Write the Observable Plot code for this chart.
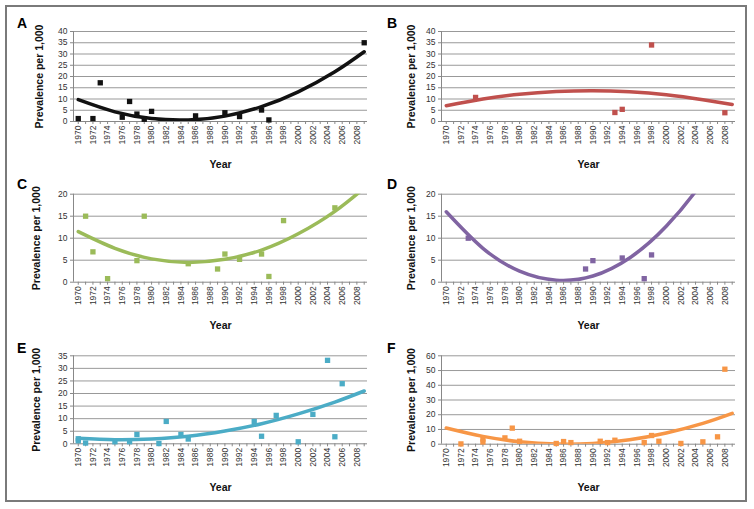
<!DOCTYPE html>
<html>
<head>
<meta charset="utf-8">
<script src="https://cdn.jsdelivr.net/npm/d3@7"></script>
<script src="https://cdn.jsdelivr.net/npm/@observablehq/plot@0.6"></script>
<style>
  html, body { margin: 0; padding: 0; background: #fff; }
  #fig { position: relative; width: 754px; height: 509px; overflow: hidden; font-family: "Liberation Sans", Arial, sans-serif; }
  #border { position: absolute; left: 5px; top: 5px; width: 742px; height: 497px; border: 2px solid #7a7a7a; box-sizing: border-box; }
  .panel { position: absolute; }
  .letter { position: absolute; font-weight: bold; font-size: 14px; line-height: 14px; color: #000; }
</style>
</head>
<body>
<div id="fig"><div id="border"></div></div>
<script>
// ---- data ----
const tickYears = [1970,1972,1974,1976,1978,1980,1982,1984,1986,1988,1990,1992,1994,1996,1998,2000,2002,2004,2006,2008];
const trendYears = [1970,1975,1980,1985,1990,1995,2000,2005,2009];

const yearsA  = [1970,1972,1973,1976,1977,1978,1979,1980,1986,1990,1992,1995,1996,2009];
const valuesA = [1.3,1.3,17.2,1.9,8.9,3.3,1.0,4.5,2.5,3.9,2.2,5.1,0.7,35];
const trendA  = [9.7,4.3,1.3,0.7,2.4,6.6,13.2,22.1,31.0];

const yearsB  = [1974,1993,1994,1998,2008];
const valuesB = [10.7,4.0,5.4,34,3.9];
const trendB  = [7.0,10.0,12.1,13.3,13.7,13.2,11.9,9.7,7.6];

const yearsC  = [1971,1972,1974,1978,1979,1985,1989,1990,1992,1995,1996,1998,2005];
const valuesC = [15.0,6.9,0.8,4.9,15.0,4.2,3.0,6.4,5.2,6.4,1.3,14.0,16.9];
const trendC  = [11.5,7.7,5.3,4.5,5.2,7.3,11.0,16.1,21.4];

const yearsD  = [1973,1989,1990,1994,1997,1998];
const valuesD = [10.0,3.0,4.9,5.5,0.8,6.2];
const trendD  = [16.0,7.7,2.5,0.45,1.4,5.5,12.7,22.9,33.3];

const yearsE  = [1970,1970,1971,1975,1977,1978,1981,1982,1984,1985,1994,1995,1997,2000,2002,2004,2005,2006];
const valuesE = [1.2,2.0,0.3,0.8,0.8,3.7,0.1,8.9,3.7,1.9,8.9,3.0,11.3,0.8,11.7,33.2,2.8,23.9];
const trendE  = [2.2,1.6,1.9,3.0,5.1,8.0,11.9,16.6,21.0];

const yearsF  = [1972,1975,1975,1978,1979,1980,1985,1986,1987,1991,1992,1993,1997,1998,1999,2002,2005,2007,2008];
const valuesF = [0.2,3.5,1.5,4.3,10.9,2.0,0.5,1.8,1.1,2.0,1.1,2.7,1.1,5.9,2.0,0.5,1.6,5.0,50.9];
const trendF  = [11.0,5.3,1.7,0.1,0.5,3.0,7.6,14.1,20.9];

const panelLetters = ["A","B","C","D","E","F"];
const panelColors  = ["#111111","#c0504d","#9bbb59","#8064a2","#4bacc6","#f79646"];
const yMaxes = [40,40,20,20,35,60];
const ySteps = [5,5,5,5,5,10];
const yLabel = "Prevalence per 1,000";
const xLabel = "Year";

// ---- layout ----
const layout = [
  {left:0,   top:0,   h:170, mL:73, mT:31,   mB:49,   yl:33.5, lx:17, ly:16},
  {left:377, top:0,   h:170, mL:64, mT:31,   mB:49,   yl:30,   lx:10, ly:16},
  {left:0,   top:170, h:170, mL:73, mT:23.7, mB:58.3, yl:37,   lx:17, ly:7},
  {left:377, top:170, h:170, mL:64, mT:23.7, mB:58.3, yl:30,   lx:10, ly:7},
  {left:0,   top:340, h:169, mL:73, mT:15.3, mB:65.7, yl:37,   lx:17, ly:1},
  {left:377, top:340, h:169, mL:64, mT:15.3, mB:65.3, yl:29.5, lx:10, ly:1}
];
const allYears = [yearsA,yearsB,yearsC,yearsD,yearsE,yearsF];
const allValues = [valuesA,valuesB,valuesC,valuesD,valuesE,valuesF];
const allTrends = [trendA,trendB,trendC,trendD,trendE,trendF];
const xDomain = [1969.35, 2009.45];
const minorTicks = d3.range(1970, 2010);

const fig = document.getElementById("fig");
layout.forEach((L, i) => {
  const pts = allYears[i].map((y, k) => ({year: y, value: allValues[i][k]}));
  const trend = trendYears.map((y, k) => ({year: y, value: allTrends[i][k]}));
  const yMax = yMaxes[i], step = ySteps[i];
  const yTicks = d3.range(0, yMax + step / 2, step);
  const color = panelColors[i];
  const chart = Plot.plot({
    width: 377,
    height: L.h,
    marginLeft: L.mL,
    marginRight: 377 - L.mL - 294,
    marginTop: L.mT,
    marginBottom: L.mB,
    style: {fontFamily: '"Liberation Sans", Arial, sans-serif', fontSize: "8.5px", color: "#333", background: "transparent", overflow: "visible"},
    x: {domain: xDomain},
    y: {domain: [0, yMax]},
    marks: [
      Plot.gridY(yTicks.filter(t => t > 0), {stroke: "#999", strokeOpacity: 1, strokeWidth: 1}),
      Plot.axisY({ticks: yTicks, tickSize: 3, tickPadding: 3, tickFormat: d => String(d), label: null, stroke: "#888"}),
      Plot.axisX({ticks: minorTicks, tickSize: 3, tickFormat: () => "", label: null, stroke: "#888"}),
      Plot.axisX({ticks: tickYears, tickSize: 0, tickPadding: 4, tickRotate: -90, tickFormat: d => String(d), label: null}),
      Plot.ruleY([0], {stroke: "#888"}),
      Plot.ruleX([xDomain[0]], {y1: 0, y2: yMax, stroke: "#888"}),
      Plot.dot(pts, {x: "year", y: "value", symbol: "square", r: 3, fill: color, stroke: "none"}),
      Plot.line(trend, {x: "year", y: "value", stroke: color, strokeWidth: 3.5, curve: "natural", clip: true}),
      Plot.text([yLabel], {text: d => d, frameAnchor: "left", dx: -L.yl, rotate: -90, textAnchor: "middle", lineAnchor: "middle", fontSize: 10.5, fontWeight: "bold", fill: "#111"}),
      Plot.text([xLabel], {text: d => d, frameAnchor: "bottom", dy: 43.5, textAnchor: "middle", lineAnchor: "middle", fontSize: 10.5, fontWeight: "bold", fill: "#111"})
    ]
  });
  const wrap = document.createElement("div");
  wrap.className = "panel";
  wrap.style.left = L.left + "px";
  wrap.style.top = L.top + "px";
  wrap.appendChild(chart);
  fig.appendChild(wrap);
  const letter = document.createElement("div");
  letter.className = "letter";
  letter.textContent = panelLetters[i];
  letter.style.left = (L.left + L.lx) + "px";
  letter.style.top = (L.top + L.ly) + "px";
  fig.appendChild(letter);
});
</script>
</body>
</html>
